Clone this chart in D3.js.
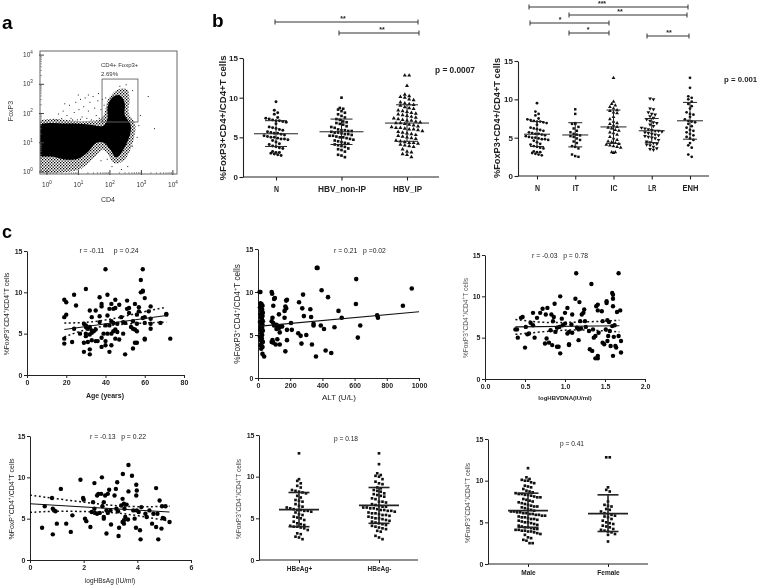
<!DOCTYPE html>
<html><head><meta charset="utf-8">
<script src="https://cdnjs.cloudflare.com/ajax/libs/d3/7.8.5/d3.min.js"></script>
<style>
html,body{margin:0;padding:0;background:#fff}
svg{display:block;filter:blur(0.45px)}
text{font-family:"Liberation Sans",Arial,sans-serif;fill:#222;white-space:pre}
</style></head><body><svg id="c" width="760" height="586"><defs><pattern id="spk" width="3" height="3" patternUnits="userSpaceOnUse"><rect width="3" height="3" fill="#fff"/><rect x="0" y="0" width="1.3" height="1.3" fill="#000"/><rect x="1.5" y="1.5" width="1.3" height="1.3" fill="#000"/></pattern></defs></svg>
<script>
// ---------- DATA ----------
// panel a: flow cytometry, log10 CD4 / log10 FoxP3
const flowBlob=[[-.3,1.56],[.62,1.66],[1.26,1.63],[1.79,1.58],[1.92,1.8],[1.93,2.25],[2.08,2.56],[2.32,2.62],[2.47,2.35],[2.47,1.95],[2.66,1.61],[2.62,1.21],[2.4,.72],[2.21,.5],[2,.78],[1.81,1],[1.58,1],[1.28,.66],[.99,.45],[.62,.42],[.2,.52],[-.3,.6]];
const flowFringe=[[-.3,.05],[.6,.0],[1.1,.12],[1.5,.5],[1.8,.75],[2.15,.3],[2.45,.4],[2.75,1.1],[2.8,1.65],[2.6,2],[2.62,2.5],[2.55,2.82],[2.25,2.82],[1.95,2.5],[1.75,1.85],[1.2,1.74],[-.3,1.68]];
const flowDots=[[.3,1.8],[.5,2.1],[.45,1.85],[.62,1.95],[.7,2.3],[.75,1.85],[.85,2.05],[.9,2.4],[.95,1.8],[1,2.15],[1.05,2.5],[1.1,1.9],[1.15,2.25],[1.2,2.55],[1.25,1.85],[1.3,2.1],[1.35,2.4],[1.4,1.8],[1.45,2.6],[1.5,2.2],[1.55,1.95],[1.6,2.45],[1.65,1.85],[1.7,2.15],[1.75,2.5],[.55,2.35],[.2,1.82],[.8,1.8],[1.05,1.82],[1.3,2.65],[.35,2],[.98,2.65],[1.62,2.7],[1.8,2.3],[1.85,2.55],[2.7,2.8],[2.5,3],[2.3,2.95],[3.2,2.6],[3.4,1.5],[2.9,1.6],[2.85,1.2],[2.95,1.95],[2.7,.9],[2.55,.2],[2.35,.1],[1.7,.4],[1.9,.45],[2.05,.2]];
const flowTicks=[1,10,100,1000,10000];
const flowMinor=[2,3,4,5,6,7,8,9,20,30,40,50,60,70,80,90,200,300,400,500,600,700,800,900,2000,3000,4000,5000,6000,7000,8000,9000];

// panel b left
const b1Cats=["N","HBV_non-IP","HBV_IP"];
const b1N=[9.5,8.4,8.1,7.9,7.5,7.4,7.3,7.2,7.1,7.1,7,6.9,6.7,6.3,6.2,6.1,6,5.9,5.7,5.6,5.5,5.5,5.4,5.3,5.2,5.1,5,5,4.9,4.8,4.8,4.7,4.6,4.4,4.2,4.1,3.9,3.8,3.7,3.6,3.2,3.1,3.1,3,2.9,2.8,2.7];
const b1NonIP=[10,8.7,8.6,8.5,8.3,8.1,7.9,7.7,7.5,7.3,7.2,7,6.9,6.8,6.7,6.6,6.4,6.3,6.2,6,5.9,5.9,5.8,5.8,5.7,5.6,5.6,5.5,5.4,5.4,5.3,5.2,5.2,5.1,5,5,4.9,4.8,4.7,4.6,4.5,4.4,4.3,4.2,4.1,4,3.9,3.8,3.6,3.5,3.4,3.2,2.8,2.7,2.5];
const b1IP=[12.8,12.8,11.5,10.4,10.2,10.1,10,9.8,9.7,9.4,9.3,9.2,9.1,9,8.8,8.7,8.6,8.4,8.3,8.2,8.1,8,7.9,7.8,7.7,7.6,7.5,7.4,7.3,7.2,7.1,7.1,7,6.9,6.8,6.8,6.7,6.6,6.5,6.4,6.3,6.2,6.2,6.1,6,6,5.9,5.8,5.7,5.6,5.5,5.4,5.3,5.2,5.1,5,4.9,4.8,4.6,4.5,4.4,4.3,4.3,4.2,4.1,4,3.9,3.8,3.5,3.2,3.1,2.9,2.8,2.5];
const b1Mean=[5.45,5.7,6.8], b1Lo=[3.85,4.1,4.5], b1Hi=[7.1,7.3,9.1];

// panel b right
const b2Cats=["N","IT","IC","LR","ENH"];
const b2Nv=b1N;
const b2IT=[8.7,8.1,6.9,6.8,6.8,6.4,6.2,5.9,5.7,5.5,5.4,5.3,5.2,5.1,4.9,4.7,4.5,4.3,3.9,3.8,3.6,2.8,2.6,2.5];
const b2IC=[12.8,9.7,9.4,9.2,9,8.8,8.6,8.5,8.3,8.2,7.7,7.4,7.1,6.9,6.8,6.6,6.4,6.3,6.2,6,5.9,5.7,5.6,5.4,5.1,4.9,4.7,4.5,4.4,4.3,4.2,4.1,4,3.9,3.8,3.7,3.1,3.1,3];
const b2LR=[10.1,10,8.8,8.7,8.3,8.1,8,7.8,7.6,7.4,7.2,7,6.9,6.7,6.5,6.3,6.2,6.1,6,5.9,5.9,5.8,5.7,5.6,5.5,5.4,5.3,5.2,5.1,5,4.9,4.7,4.5,4.4,4.3,4.2,4.1,4,3.8,3.6,3.5,3.4];
const b2ENH=[12.8,11.5,10.4,10.2,10,9.7,9.4,9.1,8.8,8.3,8.1,8,7.7,7.4,7.2,7.1,7,6.8,6.5,6.3,6,5.9,5.7,5.5,5.3,5.1,4.9,4.7,4.3,4,3.7,2.8,2.5];
const b2Mean=[5.45,5.35,6.4,5.9,7.2], b2Lo=[3.85,3.8,4.25,4.35,4.8], b2Hi=[7.1,6.95,8.6,7.5,9.6];

// panel c scatter points
const ageX=[19,20,19,20,25,24,30,19,19,23,24,27,29,30,30,31,32,33,30,30,32,33,35,34,32,35,33,38,38,37,40,41,43,45,44,42,47,45,37,41,37,40,42,43,44,46,48,49,50,51,51,52,52,55,57,57,56,58,59,58,59,59,60,63,62,60,59,63,63,63,68,71,71,73,60,60,56,55,54,50,42,32,32,29,29,31,33,35,36,38,38,40,40,39,41,43,43,45,47,44,45,46,49,53,54,55,56,54,56,60];
const ageY=[9.1,8.8,7,7.3,8.4,9.7,10.4,4.4,3.8,4,5.6,5,6.2,6,5.8,5.6,5.8,5.4,5,4.7,4.9,5.1,5.5,5.3,7.8,7.8,7,8.6,8.3,9.4,12.8,9.7,8.6,9.1,8,8,8.5,8.1,7.1,7.2,6.4,6,6,6.5,6.3,6.2,7,6.4,6.3,9,8,8.1,7.5,8.6,8.2,7.7,7.3,11.5,12.8,10,10.1,10.2,9.3,8.3,7.7,7,6.9,6.8,6.2,5.6,6.3,7.4,7.3,4.4,4.4,4.3,3.9,3.9,3.2,2.5,2.8,2.5,3.1,2.8,3.9,4,4.2,4.1,4.1,4.5,3.4,3.6,4.1,5,5,5,3.6,4.4,4.3,5.3,5.5,5.2,5,5.8,5.6,5.5,5.3,6.5,6.2,6.3];
const altX=[10,15,15,22,18,28,12,25,20,30,15,28,18,25,30,12,22,28,16,26,14,30,20,26,12,24,18,30,22,16,28,20,28,38,85,88,105,100,95,170,175,165,130,90,165,85,95,100,115,125,130,115,140,150,180,210,205,180,175,255,280,275,325,330,285,345,345,365,370,395,435,610,608,500,520,390,410,475,635,620,740,745,900,955,250,265,300,270,335,180,170,420,360,455,85,95,90,110,120,135,135];
const altY=[10,10,8.7,8.6,8.5,8.4,8.2,8,7.8,7.6,7.4,7.2,7,6.8,6.6,6.5,6.3,6.2,6,5.8,5.6,5.5,5.2,5,4.8,4.6,4.4,4.2,4,3.8,3.6,3.4,2.8,2.5,10,9.8,9.3,9.2,8.4,8.3,8.1,7.8,7.4,7,7,6.6,6.4,6.1,6.2,6,5.8,5.7,6,6,5.6,5.6,6.4,9.1,9,8.8,9.7,8.1,8,7.1,7.2,6.3,6.1,12.8,12.8,10.2,9.4,11.5,8.6,7.8,7,6.1,5.7,5.9,6.1,4.7,7.3,7,8.4,10.4,5.2,4.9,5,4,3.9,4.4,3.1,3.2,2.5,2.9,4.2,4.1,4.4,3.9,4.5,3.9,5.3];
const dnaX=[.38,.4,.41,.45,.47,.5,.51,.53,.55,.57,.6,.6,.62,.65,.69,.72,.76,.78,.75,.77,.8,.82,.83,.85,.86,.84,.87,.88,.9,.9,.92,.93,.94,.94,.96,.97,1,1,1.03,1.03,1.05,1.05,1.05,1.08,1.09,1.09,1.13,1.14,1.15,1.17,1.17,1.18,1.19,1.2,1.21,1.23,1.24,1.25,1.26,1.3,1.31,1.33,1.34,1.35,1.36,1.38,1.38,1.39,1.41,1.41,1.41,1.41,1.42,1.46,1.47,1.47,1.49,1.51,1.52,1.52,1.53,1.53,1.54,1.55,1.56,1.57,1.59,1.59,1.6,1.6,1.6,1.6,1.61,1.62,1.63,1.64,1.65,1.67,1.67,1.69,1.7,1.7];
const dnaY=[6,6,5,7.4,7.5,3.8,6.3,5.4,5.5,6.8,8,6.5,5,7.4,8,8.5,7.8,8.6,4.3,4.9,4.4,5.9,7.8,7,7.5,4.1,9.1,5.7,3.9,6.2,3.9,6.3,3.1,10,7.3,6.5,6.7,8,5.5,8.6,4.2,4.1,5.7,6.6,5.6,7.8,9.7,12.8,6.2,6,4.7,9.3,7,6.1,7.8,8,8.4,7,6.3,5.8,3.6,11.5,3.4,6,5,2.5,5.2,8.8,2.8,2.5,9,8.3,5.6,8.2,7,4.4,4.2,6,9.2,9.4,7.1,4.6,5.2,6.9,5.8,4,6.4,10.4,10.2,9.7,8.8,2.8,5.1,6.5,4,3.8,8.1,12.8,5.2,8.3,4.6,3.2];
const hbsX=[.45,.55,.82,.85,.85,.9,.95,1,1.15,1.35,1.52,1.58,1.88,1.98,2,2.05,2.1,2.25,2.3,2.35,2.4,2.4,2.42,2.5,2.5,2.55,2.6,2.65,2.68,2.7,2.75,2.75,2.75,2.8,2.85,2.85,2.9,2.9,2.95,3,3.02,3.15,3.2,3.22,3.25,3.28,3.3,3.32,3.4,3.45,3.5,3.5,3.46,3.45,3.5,3.52,3.55,3.6,3.65,3.67,3.67,3.8,3.85,3.9,3.96,3.98,3.96,3.95,3.98,4.05,4.1,4.12,4.15,4.3,4.35,4.45,4.55,4.6,4.7,4.7,4.75,4.78,4.83,4.9,4.92,4.95,5,5.05,5.2];
const hbsY=[3.9,6.5,7.5,3.1,6.2,6,5.9,4.4,8.6,4.4,3.4,5.4,9.7,7.5,7.3,5,4.7,4,5.8,7,6.2,9.3,5.7,5.6,7.8,8,5.7,8,10,6.5,7,5,5.2,7.8,6,3.2,5.7,8,8.5,6,4.3,7.8,8.6,6.2,9.4,5.9,2.9,3.9,6.6,4.6,4.8,4.4,10.4,7.4,6.8,6.2,5.2,6.7,4.9,11.5,8.3,10.2,6,5,9.1,8.4,7.8,3.9,6,5.8,3.6,2.5,6.4,5.6,5.2,6,4.4,5.6,8.7,4,5.6,2.5,7.2,3.8,6.5,5.1,5,6.5,4.6];
// regression lines and confidence bands: [x,y]
const ageLine=[[19,5.5],[71,7.2]], ageUp=[[19,6.3],[30,6.3],[45,6.8],[60,7.7],[71,8.2]], ageDn=[[19,4.6],[30,5.6],[45,6.1],[60,6.3],[71,6.4]];
const altLine=[[0,6],[1000,7.7]];
const dnaLine=[[.38,6.3],[1.68,6.45]], dnaUp=[[.38,7.2],[.7,6.8],[1,6.85],[1.3,6.9],[1.68,7.1]], dnaDn=[[.38,5.4],[.7,5.7],[1,5.95],[1.3,5.95],[1.68,5.7]];
const hbsLine=[[0,6.8],[5.2,5.8]], hbsUp=[[0,7.85],[1,7.4],[2,7],[3,6.6],[4,6.4],[5.2,6.5]], hbsDn=[[0,5.75],[1,5.95],[2,5.85],[3,5.8],[4,5.4],[5.2,4.7]];

// panel c swarms
const c5Cats=["HBeAg+","HBeAg-"];
const c5Pos=[12.8,9.7,9.5,9.2,8.9,8.7,8.4,8.3,8.2,8.1,8,7.7,7.5,7.2,7.1,7,6.7,6.5,6.4,6.3,6.2,6.1,6,6,5.9,5.9,5.8,5.7,5.5,5.4,5.2,5.1,5,4.8,4.6,4.4,4.3,4.2,4.1,4,4,3.9,3.8,3.6,3.2,3.1,2.8,2.7,2.5];
const c5Neg=[12.8,11.5,10.4,10.2,10.1,10,9.7,9.4,9.2,9.1,8.7,8.6,8.4,8.3,8.2,8,7.9,7.8,7.7,7.6,7.4,7.3,7,7,6.9,6.7,6.6,6.5,6.4,6.4,6.3,6.3,6.2,6.2,6.1,6,6,5.9,5.9,5.8,5.7,5.6,5.6,5.5,5.4,5.4,5.3,5.2,5.1,5,5,4.9,4.8,4.7,4.6,4.5,4.4,4.3,4.2,4.1,4,3.9,3.8,3.7,3.5,3.4,2.9,2.7,2.5];
const c5Mean=[6.05,6.55], c5Lo=[4,4.4], c5Hi=[8.1,8.7];
const c6Cats=["Male","Female"];
const c6Male=[11.5,10.4,10.2,10.1,10,10,9.8,9.7,9.4,9.3,9.2,9,8.8,8.7,8.6,8.5,8.4,8.4,8.3,8.3,8.2,8.1,8,8,7.8,7.7,7.6,7.5,7.4,7.3,7.2,7.1,7,6.9,6.9,6.8,6.7,6.6,6.5,6.4,6.3,6.3,6.2,6.2,6.1,6.1,6,6,5.9,5.9,5.8,5.8,5.7,5.6,5.6,5.5,5.4,5.4,5.3,5.2,5.1,5,5,4.9,4.8,4.7,4.6,4.5,4.4,4.4,4.3,4.2,4.2,4.1,4.1,4,4,3.9,3.9,3.8,3.7,3.6,3.5,3.2,3.1,2.9,2.8,2.5,2.5];
const c6Female=[12.8,12.8,9.2,8.9,8.7,7.5,7.1,7,6.9,6.6,6.5,6.3,6.1,6,5.9,5.8,5.7,5.6,5.4,5.2,5,4.9,4.8,4.6,4.5,4.4,4.2,4.1,4,3.9,3.8,3.6,3.5,2.7];
const c6Mean=[6.4,6.05], c6Lo=[4.4,3.9], c6Hi=[8.5,8.3];
const yTicks=[0,5,10,15];

// ---------- DRAW ----------
const svg=d3.select("#c");
function txt(x,y,s,o={}){
  const t=svg.append("text").attr("x",x).attr("y",y).attr("font-size",o.fs||7).attr("text-anchor",o.anchor||"middle")
   .attr("font-weight",o.bold?"bold":"normal").attr("dominant-baseline","middle");
  if(o.color)t.style("fill",o.color);
  if(o.rot)t.attr("transform",`rotate(${o.rot} ${x} ${y})`);
  if(o.len)t.attr("textLength",o.len).attr("lengthAdjust","spacingAndGlyphs");
  let back=0;
  s.split(/(\^.)/).filter(p=>p).forEach(p=>{
    const ts=t.append("tspan");
    if(p[0]==="^"){ts.text(p[1]).attr("font-size",(o.fs||7)*.7).attr("dy",-(o.fs||7)*.32);back=(o.fs||7)*.32;}
    else{ts.text(p);if(back){ts.attr("dy",back);back=0;}}
  });
  return t;
}

// panel a
(function(){
  const L=40,R=177,T=51,B=174;
  const x=d3.scaleLog().domain([Math.pow(10,-.22),Math.pow(10,4.13)]).range([L,R]);
  const y=d3.scaleLog().domain([Math.pow(10,-.07),Math.pow(10,4.14)]).range([B,T]);
  const lin=p=>[x(Math.pow(10,p[0])),y(Math.pow(10,p[1]))];
  const g=svg.append("g");
  g.append("rect").attr("x",L).attr("y",T).attr("width",R-L).attr("height",B-T).attr("fill","#fff");
  g.append("path").attr("d",d3.line().curve(d3.curveCatmullRomClosed)(flowFringe.map(lin))).attr("fill","url(#spk)");
  g.selectAll(".fd").data(flowDots).join("rect").attr("x",d=>lin(d)[0]).attr("y",d=>lin(d)[1]).attr("width",1).attr("height",1).attr("fill","#222");
  g.append("path").attr("d",d3.line().curve(d3.curveCatmullRomClosed)(flowBlob.map(lin))).attr("fill","#000");
  g.append("rect").attr("x",L-14).attr("y",T-2).attr("width",14).attr("height",B-T+14).attr("fill","#fff");
  g.append("rect").attr("x",L).attr("y",B).attr("width",R-L).attr("height",8).attr("fill","#fff");
  g.append("rect").attr("x",L).attr("y",T).attr("width",R-L).attr("height",B-T).attr("fill","none").attr("stroke","#666").attr("stroke-width",1);
  flowTicks.forEach(t=>g.append("line").attr("x1",x(t)).attr("x2",x(t)).attr("y1",B+1).attr("y2",B-4).attr("stroke","#444"));
  flowTicks.forEach(t=>g.append("line").attr("y1",y(t)).attr("y2",y(t)).attr("x1",L-1).attr("x2",L+4).attr("stroke","#444"));
  flowMinor.forEach(t=>{g.append("line").attr("x1",x(t)).attr("x2",x(t)).attr("y1",B).attr("y2",B-2).attr("stroke","#666").attr("stroke-width",.6);
    g.append("line").attr("y1",y(t)).attr("y2",y(t)).attr("x1",L).attr("x2",L+2).attr("stroke","#666").attr("stroke-width",.6);});
  const gate=[[1.75,3.18],[2.89,1.71]].map(lin);
  g.append("rect").attr("x",gate[0][0]).attr("y",gate[0][1]).attr("width",gate[1][0]-gate[0][0]).attr("height",gate[1][1]-gate[0][1]).attr("fill","none").attr("stroke","#666").attr("stroke-width",.9);
  flowTicks.forEach((t,i)=>{
    txt(x(t),185,"10^"+i,{fs:6.5,color:"#333"});
    txt(L-12,y(t),"10^"+i,{fs:6.5,color:"#333"});
  });
  txt(101,65,"CD4+ Foxp3+",{fs:6,anchor:"start",color:"#333"});
  txt(101,74,"2.69%",{fs:6,anchor:"start",color:"#333"});
  txt(11,111,"FoxP3",{fs:7,rot:-90,color:"#333"});
  txt(108,200,"CD4",{fs:7,color:"#333"});
})();

function axes(cfg){
  const y=d3.scaleLinear().domain([0,15]).range([cfg.y0,cfg.y15]);
  const g=svg.append("g").attr("class","axes");
  const ya=g.append("g").attr("transform",`translate(${cfg.x0},0)`).call(d3.axisLeft(y).tickValues(yTicks).tickSize(cfg.tick||3.5).tickSizeOuter(0).tickPadding(1.5));
  const styleAxis=s=>{s.selectAll("path,line").attr("stroke",cfg.axis||"#222").attr("stroke-width",cfg.sw||1);
    s.selectAll("text").attr("font-size",cfg.tickFs||7).attr("font-weight",cfg.tickBold?"bold":"normal").style("fill","#222");};
  styleAxis(ya);
  let x;
  if(cfg.cats){
    x=d3.scalePoint().domain(cfg.cats).range(cfg.catRange);
    const xa=g.append("g").attr("transform",`translate(0,${cfg.y0})`).call(d3.axisBottom(x).tickSizeOuter(0).tickSize(cfg.tick||3.5).tickPadding(cfg.catPad||6));
    xa.select("path").attr("d",`M${cfg.x0},0H${cfg.x1}`);
    styleAxis(xa); xa.selectAll("text").attr("font-size",cfg.catFs||7);
    if(cfg.catLen) xa.selectAll("text").attr("lengthAdjust","spacingAndGlyphs").attr("textLength",(d,i)=>cfg.catLen[i]);
  } else {
    x=d3.scaleLinear().domain(cfg.xDomain).range([cfg.x0,cfg.x1]);
    const xa=g.append("g").attr("transform",`translate(0,${cfg.y0})`).call(d3.axisBottom(x).tickValues(cfg.xTicks).tickFormat(cfg.xFmt||(d=>d)).tickSize(cfg.tick||3.5).tickSizeOuter(0).tickPadding(2));
    styleAxis(xa);
  }
  return {x,y};
}
function swarm(vals,dx,binH){
  const bins=d3.group(vals,v=>Math.round(v/binH));
  const out=[];
  bins.forEach(a=>a.forEach((v,i)=>out.push({v,o:(i-(a.length-1)/2)*dx})));
  return out;
}
function swarmPanel(cfg,series,means,los,his,shapes){
  const {x,y}=axes(cfg);
  cfg.cats.forEach((c,i)=>{
    const cx=x(c);
    const pts=swarm(series[i],cfg.dxs?cfg.dxs[i]:cfg.dx,cfg.binH);
    const base=d3.symbol().type(shapes[i]).size(cfg.sym);
    svg.append("g").selectAll("path").data(pts).join("path").attr("d",base)
      .attr("transform",d=>`translate(${cx+d.o},${y(d.v)})${cfg.flip===i?" rotate(180)":""}`).attr("fill","#111");
    const g=svg.append("g").attr("stroke","#222").attr("stroke-width",cfg.barSw);
    g.append("line").attr("x1",cx-cfg.mw).attr("x2",cx+cfg.mw).attr("y1",y(means[i])).attr("y2",y(means[i]));
    g.append("line").attr("x1",cx).attr("x2",cx).attr("y1",y(los[i])).attr("y2",y(his[i]));
    [los[i],his[i]].forEach(v=>g.append("line").attr("x1",cx-cfg.cw).attr("x2",cx+cfg.cw).attr("y1",y(v)).attr("y2",y(v)));
  });
}
function scatterPanel(cfg,xs,ys,line,up,dn){
  const {x,y}=axes(cfg);
  svg.append("g").selectAll("circle").data(xs.map((v,i)=>[v,ys[i]])).join("circle")
    .attr("cx",d=>x(d[0])).attr("cy",d=>y(d[1])).attr("r",cfg.r||2).attr("fill","#000");
  const l=d3.line().x(d=>x(d[0])).y(d=>y(d[1]));
  svg.append("path").attr("d",l(line)).attr("fill","none").attr("stroke","#111").attr("stroke-width",1.1);
  [up,dn].forEach(b=>{ if(b) svg.append("path").attr("d",d3.line().curve(d3.curveBasis).x(d=>x(d[0])).y(d=>y(d[1]))(b)).attr("fill","none").attr("stroke","#111").attr("stroke-width",1.5).attr("stroke-dasharray","2 2.5");});
}

// panel b
swarmPanel({x0:243,x1:439,y0:177,y15:58,cats:b1Cats,catRange:[276,407],dxs:[3.4,3.4,4.4],binH:.55,sym:7,mw:22,cw:11,barSw:1,tickFs:8,tickBold:true,catFs:9,catPad:5,catLen:[5,48,29],sw:1.1},
  [b1N,b1NonIP,b1IP],b1Mean,b1Lo,b1Hi,[d3.symbolCircle,d3.symbolSquare,d3.symbolTriangle]);
swarmPanel({x0:518,x1:709,y0:176,y15:61,cats:b2Cats,catRange:[537,690],dxs:[3.2,3.2,3.6,3.4,3.4],binH:.55,sym:6,mw:13,cw:7,barSw:1,tickFs:8,tickBold:true,catFs:9,catPad:5,catLen:[5,6,7,8,16],flip:3,sw:1.1},
  [b2Nv,b2IT,b2IC,b2LR,b2ENH],b2Mean,b2Lo,b2Hi,[d3.symbolCircle,d3.symbolSquare,d3.symbolTriangle,d3.symbolTriangle,d3.symbolCircle]);

// panel c
const bSub={tick:3,tickFs:7,tickBold:true,sw:1};
scatterPanel({...bSub,x0:27,x1:184,y0:375,y15:251,xDomain:[0,80],xTicks:[0,20,40,60,80],r:2.2},ageX,ageY,ageLine,ageUp,ageDn);
scatterPanel({...bSub,x0:258,x1:419,y0:378,y15:249,xDomain:[0,1000],xTicks:[0,200,400,600,800,1000],r:2.3},altX,altY,altLine);
scatterPanel({...bSub,x0:485,x1:645,y0:379,y15:255,xDomain:[0,2],xTicks:[0,.5,1,1.5,2],xFmt:d3.format(".1f"),r:2.2},dnaX,dnaY,dnaLine,dnaUp,dnaDn);
scatterPanel({...bSub,x0:30,x1:191,y0:560,y15:436,xDomain:[0,6],xTicks:[0,2,4,6],r:2.2},hbsX,hbsY,hbsLine,hbsUp,hbsDn);
swarmPanel({...bSub,x0:259,x1:418,y0:560,y15:435,cats:c5Cats,catRange:[299,379],dx:3.5,binH:.55,sym:7,mw:20,cw:10.5,barSw:1.6,catFs:6.5,catPad:3},
  [c5Pos,c5Neg],c5Mean,c5Lo,c5Hi,[d3.symbolSquare,d3.symbolSquare]);
swarmPanel({...bSub,x0:488,x1:648,y0:564,y15:439,cats:c6Cats,catRange:[528,608],dxs:[3.1,3.5],binH:.55,sym:7,mw:20,cw:10.5,barSw:1.6,catFs:6.5,catPad:3},
  [c6Male,c6Female],c6Mean,c6Lo,c6Hi,[d3.symbolSquare,d3.symbolSquare]);

// significance brackets
const brackets=[
 [275,418,22,"**",343],[339,419,33,"**",382],
 [529,688,7,"***",602],[569,687,15,"**",620],[530,609,23,"*",560],[569,609,33,"*",588],[647,689,36,"**",669]];
brackets.forEach(b=>{
  const g=svg.append("g").attr("stroke","#333").attr("stroke-width",1);
  g.append("line").attr("x1",b[0]).attr("x2",b[1]).attr("y1",b[2]).attr("y2",b[2]);
  [b[0],b[1]].forEach(v=>g.append("line").attr("x1",v).attr("x2",v).attr("y1",b[2]-2.5).attr("y2",b[2]+2.5));
  txt(b[4],b[2]-3.5,b[3],{fs:7,bold:true});
});

// labels
txt(2,24,"a",{fs:19,bold:true,anchor:"start",color:"#000"});
txt(212,22,"b",{fs:19,bold:true,anchor:"start",color:"#000"});
txt(2,233,"c",{fs:18,bold:true,anchor:"start",color:"#000"});
txt(223,118,"%FoxP3+CD4+/CD4+T cells",{fs:9.5,bold:true,rot:-90,color:"#222",len:125});
txt(498,118,"%FoxP3+CD4+/CD4+T cells",{fs:9.2,bold:true,rot:-90,color:"#222",len:120});
txt(435,71,"p = 0.0007",{fs:9,bold:true,anchor:"start",len:40});
txt(724,80,"p = 0.001",{fs:7.8,bold:true,anchor:"start"});

txt(7,314,"%FoxP3^+CD4^+/CD4^+T cells",{fs:6.8,rot:-90});
txt(238,314,"%FoxP3^+CD4^+/CD4^+T cells",{fs:8.2,rot:-90});
txt(466,318,"%FoxP3^+CD4^+/CD4^+T cells",{fs:6.6,rot:-90,color:"#555"});
txt(12,499,"%FoxP^+CD4^+/CD4^+T cells",{fs:7,rot:-90});
txt(239,499,"%FoxP3^+CD4^+/CD4^+T cells",{fs:6.6,rot:-90,color:"#444"});
txt(468,503,"%FoxP3^+CD4^+/CD4^+T cells",{fs:6.6,rot:-90,color:"#444"});

txt(109,251,"r = -0.11     p = 0.24",{fs:6.8});
txt(360,251,"r = 0.21   p =0.02",{fs:6.8});
txt(560,256,"r = -0.03   p = 0.78",{fs:6.8});
txt(118,437,"r = -0.13   p = 0.22",{fs:6.8});
txt(346,439,"p = 0.18",{fs:6.6});
txt(572,444,"p = 0.41",{fs:6.6});

txt(105,396,"Age (years)",{fs:7,bold:true});
txt(339,398,"ALT (U/L)",{fs:8});
txt(565,398,"logHBVDNA(IU/ml)",{fs:6,bold:true});
txt(110,581,"logHBsAg (IU/ml)",{fs:6.5});
</script></body></html>
